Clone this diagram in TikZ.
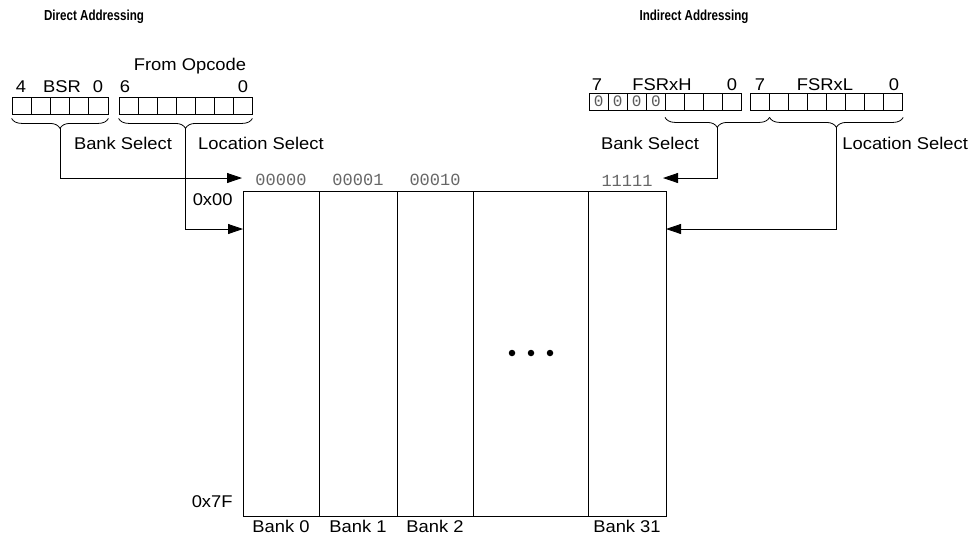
\documentclass[tikz,border=0pt]{standalone}
\usepackage{fontspec}
\setmainfont{Liberation Sans}[FakeStretch=1.08]
\setmonofont{Liberation Mono}
\newfontfamily\headfont{Liberation Sans}[FakeStretch=0.8]
\usetikzlibrary{arrows.meta,calc,decorations.pathreplacing}

\begin{document}
\begin{tikzpicture}[x=1pt, y=-1pt, line width=0.8pt,
    cell/.style={draw, minimum width=19.2pt, minimum height=17pt, inner sep=0pt, font={\fontsize{16}{16}\selectfont\ttfamily}, text=black!65},
    bankcol/.style={draw, minimum height=325pt, inner sep=0pt, line width=1pt},
    lbl/.style={font={\fontsize{17}{20}\selectfont}, inner sep=0pt},
    addr/.style={font={\fontsize{17}{20}\selectfont\ttfamily}, text=black!60, inner sep=0pt},
    head/.style={font={\fontsize{14.5}{16}\selectfont\headfont\bfseries}, inner sep=0pt},
    brc/.style={decorate, decoration={brace, mirror, amplitude=10pt}},
    arr/.style={-{Triangle[length=15pt, width=10pt]}},
    dot/.style={circle, fill, inner sep=0pt, minimum size=6.5pt}
]
\useasboundingbox (0,0) rectangle (972,542);

\node[head] (dtitle) at (94,17) {Direct Addressing};
\node[head] (ititle) at (694,17) {Indirect Addressing};

\foreach \b [count=\k from 0] in {4,...,0}
  \node[cell] (bsr\b) at ({12+19.2*(\k+0.5)},105.5) {};
\foreach \b [count=\k from 0] in {6,...,0}
  \node[cell, minimum width=19pt] (opc\b) at ({119+19*(\k+0.5)},105.5) {};
\foreach \b [count=\k from 0] in {7,...,0}
  \node[cell, minimum width=19.1pt] (fsrh\b) at ({589+19.1*(\k+0.5)},101.5) {\ifnum\k<4 0\fi};
\foreach \b [count=\k from 0] in {7,...,0}
  \node[cell, minimum width=19.1pt] (fsrl\b) at ({750+19.1*(\k+0.5)},101.5) {};

\node[lbl] (opcname) at (190,66) {From Opcode};
\node[lbl] (bsrhi) at (21,87) {4};
\node[lbl] (bsrname) at (62,87) {BSR};
\node[lbl] (bsrlo) at (98,87) {0};
\node[lbl] (opchi) at (125,87) {6};
\node[lbl] (opclo) at (243,87) {0};
\node[lbl] (fhhi) at (597,85) {7};
\node[lbl] (fhname) at (662,85) {FSRxH};
\node[lbl] (fhlo) at (732,85) {0};
\node[lbl] (flhi) at (760,85) {7};
\node[lbl] (flname) at (825,85) {FSRxL};
\node[lbl] (fllo) at (894,85) {0};

\draw[brc] ([yshift=-4pt]bsr4.south west) -- ([yshift=-4pt]bsr0.south east);
\draw[brc] ([yshift=-4pt]opc6.south west) -- ([yshift=-4pt]opc0.south east);
\draw[brc] ([yshift=-7pt]fsrh3.south west) -- ([yshift=-7pt]fsrl7.south east);
\draw[brc] ([yshift=-7pt]fsrl7.south east) -- ([yshift=-7pt]fsrl0.south east);
\coordinate (bsrtip) at ($(bsr4.south west)!0.5!(bsr0.south east)+(0,14)$);
\coordinate (opctip) at ($(opc6.south west)!0.5!(opc0.south east)+(0,14)$);
\coordinate (fhtip) at ($(fsrh3.south west)!0.5!(fsrl7.south east)+(0,17)$);
\coordinate (fltip) at ($(fsrl7.south east)!0.5!(fsrl0.south east)+(0,17)$);

\node[lbl] (dbanklbl) at (123,143) {Bank Select};
\node[lbl] (dloclbl) at (261,143) {Location Select};
\node[lbl] (ibanklbl) at (650,143) {Bank Select};
\node[lbl, anchor=west] (iloclbl) at (842,143) {Location Select};

\foreach \n/\xa/\xb in {0/243/319, 1/319/397, 2/397/473, x/473/588, 31/588/666}
  \node[bankcol, minimum width={(\xb-\xa)*1pt}] (bk\n) at ({(\xa+\xb)/2},353.5) {};
\foreach \n/\t in {0/00000, 1/00001, 2/00010, 31/11111}
  \node[addr, anchor=south] (ad\n) at ([yshift=4pt]bk\n.north) {\t};
\foreach \n in {0,1,2,31}
  \node[lbl, anchor=north] (bl\n) at ([yshift=-3pt]bk\n.south) {Bank \n};
\foreach \k in {0,1,2}
  \node[dot] (dt\k) at ({512+19*\k},353) {};

\node[lbl, anchor=east] (row0) at (233,200) {0x00};
\node[lbl, anchor=east] (row7f) at (233,502) {0x7F};

\coordinate (dbankin) at (242,178);
\coordinate (dlocin) at (243,229);
\coordinate (ibankin) at (663,178);
\coordinate (ilocin) at (666,229);
\draw[arr] (bsrtip) |- (dbankin);
\draw[arr] (opctip) |- (dlocin);
\draw[arr] (fhtip) |- (ibankin);
\draw[arr] (fltip) |- (ilocin);
\end{tikzpicture}
\end{document}
